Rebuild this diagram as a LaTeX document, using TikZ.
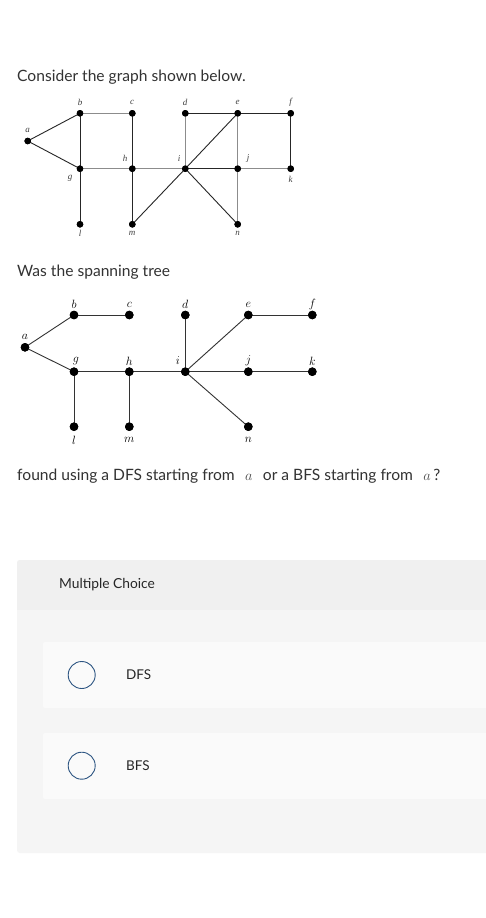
\documentclass[tikz,border=0pt]{standalone}
\usepackage{fontspec}
\setmainfont{Lato}
\newfontfamily\lblfont{Liberation Serif}
\begin{document}
\begin{tikzpicture}[x=1pt,y=-1pt,
  dotA/.style={circle,fill=black,inner sep=0pt,minimum size=6.5pt},
  dotB/.style={circle,fill=black,inner sep=0pt,minimum size=8.5pt},
  lblA/.style={font=\lblfont\itshape\fontsize{9}{10}\selectfont,text=black!75,inner sep=0pt},
  lblB/.style={font=\fontsize{11.5}{12}\selectfont,inner sep=0pt},
  edk/.style={draw=black!85,line width=0.9pt},
  edg/.style={draw=black!45,line width=1pt},
  edB/.style={draw=black!80,line width=0.9pt},
  qtext/.style={font=\fontsize{15.6}{17}\selectfont,text=black!80,anchor=west,inner sep=0pt},
  opttext/.style={font=\fontsize{13.5}{15}\selectfont,text=black!85,anchor=west,inner sep=0pt},
  radio/.style={circle,draw={rgb,255:red,45;green,85;blue,130},line width=0.9pt,minimum size=27pt,inner sep=0pt}
]
\useasboundingbox (0,0) rectangle (486,918);
\fill[white] (0,0) rectangle (486,918);

% texts
\node[qtext] (t1) at (17,77) {Consider the graph shown below.};
\node[qtext] (t2) at (17,272) {Was the spanning tree};
\node[qtext] (t3) at (17,476) {found using a DFS starting from\enspace\,{\color{black!70}$a$}\,\enspace or a BFS starting from\enspace\,{\color{black!70}$a$}\,?};

% graph 1
\node[dotA] (a1) at (27.7,141) {};
\node[dotA] (b1) at (80,113.3) {};
\node[dotA] (c1) at (132.3,113.3) {};
\node[dotA] (d1) at (185.3,113.3) {};
\node[dotA] (e1) at (237.7,113.3) {};
\node[dotA] (f1) at (290.7,113.3) {};
\node[dotA] (g1) at (80,168.7) {};
\node[dotA] (h1) at (132.3,168.7) {};
\node[dotA] (i1) at (185.3,168.7) {};
\node[dotA] (j1) at (237.7,168.7) {};
\node[dotA] (k1) at (290.7,168.7) {};
\node[dotA] (l1) at (80,224.3) {};
\node[dotA] (m1) at (132.3,224.3) {};
\node[dotA] (n1) at (237.7,224.3) {};

\path[edk] (a1.center) -- (b1.center);
\path[edk] (a1.center) -- (g1.center);
\path[edg] (b1.center) -- (c1.center);
\path[edk] (b1.center) -- (g1.center);
\path[edk] (c1.center) -- (h1.center);
\path[edk] (d1.center) -- (e1.center);
\path[edk] (e1.center) -- (f1.center);
\path[edg] (d1.center) -- (i1.center);
\path[edk] (e1.center) -- (i1.center);
\path[edg] (e1.center) -- (j1.center);
\path[edk] (f1.center) -- (k1.center);
\path[edg] (g1.center) -- (h1.center);
\path[edg] (h1.center) -- (i1.center);
\path[edk] (g1.center) -- (l1.center);
\path[edk] (h1.center) -- (m1.center);
\path[edk] (i1.center) -- (m1.center);
\path[edk] (i1.center) -- (j1.center);
\path[edg] (j1.center) -- (k1.center);
\path[edg] (j1.center) -- (n1.center);
\path[edk] (i1.center) -- (n1.center);
\foreach \v in {a1,b1,c1,d1,e1,f1,g1,h1,i1,j1,k1,l1,m1,n1} \fill (\v) circle (3.3pt);

\node[lblA] (la1) at (27.5,130.5) {a};
\node[lblA] (lb1) at (80,102.5) {b};
\node[lblA] (lc1) at (132,102.5) {c};
\node[lblA] (ld1) at (185,102.5) {d};
\node[lblA] (le1) at (237.5,102.5) {e};
\node[lblA] (lf1) at (290.5,102.5) {f};
\node[lblA] (lh1) at (125,158.5) {h};
\node[lblA] (li1) at (179,158.5) {i};
\node[lblA] (lj1) at (248,158.5) {j};
\node[lblA] (lg1) at (70,178.5) {g};
\node[lblA] (lk1) at (290.5,179) {k};
\node[lblA] (ll1) at (80,233.5) {l};
\node[lblA] (lm1) at (132,233.5) {m};
\node[lblA] (ln1) at (237.5,233.5) {n};

% graph 2
\node[dotB] (a2) at (25,347.3) {};
\node[dotB] (b2) at (74,315) {};
\node[dotB] (c2) at (129.3,315) {};
\node[dotB] (d2) at (185.3,315) {};
\node[dotB] (e2) at (248.3,315) {};
\node[dotB] (f2) at (312.3,315) {};
\node[dotB] (g2) at (74,371.7) {};
\node[dotB] (h2) at (129.3,371.7) {};
\node[dotB] (i2) at (185.3,371.7) {};
\node[dotB] (j2) at (248.3,371.7) {};
\node[dotB] (k2) at (312.3,371.7) {};
\node[dotB] (l2) at (74,426.7) {};
\node[dotB] (m2) at (129.3,426.7) {};
\node[dotB] (n2) at (248.3,426.7) {};

\path[edB] (a2.center) -- (b2.center);
\path[edB] (a2.center) -- (g2.center);
\path[edB] (b2.center) -- (c2.center);
\path[edB] (d2.center) -- (i2.center);
\path[edB] (e2.center) -- (i2.center);
\path[edB] (e2.center) -- (f2.center);
\path[edB] (g2.center) -- (h2.center);
\path[edB] (h2.center) -- (i2.center);
\path[edB] (i2.center) -- (j2.center);
\path[edB] (j2.center) -- (k2.center);
\path[edB] (i2.center) -- (n2.center);
\path[edB] (g2.center) -- (l2.center);
\path[edB] (h2.center) -- (m2.center);
\foreach \v in {a2,b2,c2,d2,e2,f2,g2,h2,i2,j2,k2,l2,m2,n2} \fill (\v) circle (4.3pt);

\node[lblB] (la2) at (25,336.5) {$a$};
\node[lblB] (lb2) at (74,304.5) {$b$};
\node[lblB] (lc2) at (129.3,304.5) {$c$};
\node[lblB] (ld2) at (185.3,304.5) {$d$};
\node[lblB] (le2) at (248.3,304.5) {$e$};
\node[lblB] (lf2) at (312.3,304.5) {$f$};
\node[lblB] (lg2) at (76,361) {$g$};
\node[lblB] (lh2) at (129.3,361) {$h$};
\node[lblB] (li2) at (178,361) {$i$};
\node[lblB] (lj2) at (248.3,361) {$j$};
\node[lblB] (lk2) at (312.3,361) {$k$};
\node[lblB] (ll2) at (74,440) {$l$};
\node[lblB] (lm2) at (129.3,440) {$m$};
\node[lblB] (ln2) at (248.3,440) {$n$};

% multiple choice panel
\fill[black!4,rounded corners=3pt] (17,560) rectangle (492,853);
\fill[black!6] (17,562) rectangle (486,610);
\fill[black!6,rounded corners=3pt] (17,560) rectangle (492,580);
\fill[black!2,rounded corners=2pt] (43,642) rectangle (492,708);
\fill[black!2,rounded corners=2pt] (43,733) rectangle (492,799);
\node[font=\fontsize{13.8}{15}\selectfont,text=black!85,anchor=west,inner sep=0pt] (mc) at (59,585) {Multiple Choice};
\node[radio] (r1) at (81.7,675) {};
\node[radio] (r2) at (81.7,765.7) {};
\node[opttext] (o1) at (126,675) {DFS};
\node[opttext] (o2) at (126,766) {BFS};
\end{tikzpicture}
\end{document}
